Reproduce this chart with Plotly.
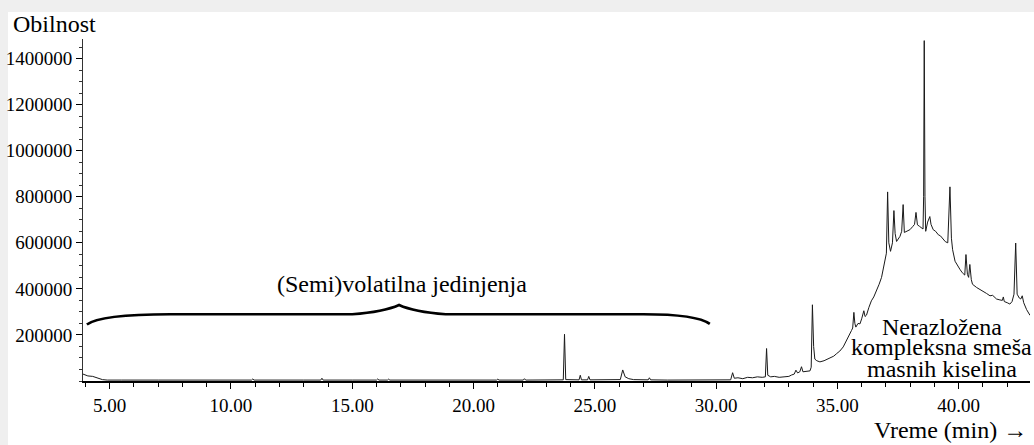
import plotly.graph_objects as go

# Retention time (min) and detector abundance of the chromatogram
time_min = [
    3.90, 3.95, 4.10, 4.30, 4.50, 4.70, 4.90, 5.30, 5.50, 7.00, 9.00,
    10.85, 10.90, 10.95, 13.00, 13.70, 13.75, 13.80, 15.00, 16.00, 16.05, 16.10,
    16.45, 16.50, 16.55, 18.00, 18.95, 19.00, 19.05, 20.50, 20.95, 21.00, 21.05,
    22.05, 22.10, 22.15, 23.00, 23.70, 23.75, 23.80, 24.35, 24.40, 24.45,
    24.70, 24.75, 24.80, 26.05, 26.15, 26.25, 26.40, 26.60, 27.20, 27.25, 27.30,
    28.00, 28.45, 28.50, 28.55, 29.25, 29.30, 29.35, 30.00, 30.60, 30.68, 30.75,
    30.90, 31.10, 31.30, 31.50, 31.70, 31.90, 32.03, 32.08, 32.13, 32.25, 32.40,
    32.60, 32.80, 33.00, 33.11, 33.22, 33.29, 33.36, 33.45, 33.52, 33.58, 33.70,
    33.87, 33.92, 33.97, 34.02, 34.07, 34.15, 34.28, 34.45, 34.69, 34.85, 34.97,
    35.10, 35.24, 35.35, 35.45, 35.52, 35.58, 35.63, 35.68, 35.72, 35.76, 35.85,
    35.93, 36.00, 36.09, 36.14, 36.20, 36.30, 36.40, 36.50, 36.61, 36.72, 36.82,
    36.90, 36.96, 37.02, 37.07, 37.12, 37.19, 37.27, 37.33, 37.38, 37.44, 37.52,
    37.58, 37.65, 37.71, 37.76, 37.85, 37.99, 38.10, 38.18, 38.24, 38.30, 38.38,
    38.47, 38.53, 38.555, 38.58, 38.61, 38.64, 38.72, 38.81, 38.86, 38.95, 39.05,
    39.16, 39.25, 39.36, 39.45, 39.55, 39.64, 39.70, 39.75, 39.85, 39.95, 40.05,
    40.15, 40.25, 40.30, 40.36, 40.41, 40.46, 40.52, 40.57, 40.74, 40.85, 41.01,
    41.15, 41.29, 41.40, 41.50, 41.56, 41.70, 41.80, 41.84, 41.88, 42.00, 42.11,
    42.20, 42.28, 42.35, 42.41, 42.50, 42.56, 42.62, 42.68, 42.80, 42.94,
]
abundance = [
    30000, 28000, 22000, 20000, 14000, 6000, 4000, 5000, 4000, 4000, 4000,
    4000, 9000, 4000, 4000, 4000, 12000, 4000, 4000, 4000, 9000, 4000,
    4000, 8000, 4000, 4000, 4000, 7000, 4000, 4000, 4000, 8000, 4000,
    4000, 10000, 4000, 4000, 5000, 203000, 6000, 5000, 25000, 5000,
    5000, 20000, 5000, 6000, 48000, 18000, 10000, 6000, 5000, 14000, 5000,
    4000, 4000, 7000, 4000, 4000, 6000, 4000, 4000, 5000, 36000, 12000,
    14000, 10000, 16000, 14000, 18000, 16000, 18000, 141000, 25000, 18000, 20000,
    16000, 18000, 20000, 26000, 30000, 47000, 35000, 40000, 62000, 40000, 42000,
    44000, 60000, 331000, 150000, 95000, 88000, 83000, 88000, 98000, 108000, 119000,
    130000, 148000, 170000, 191000, 200000, 219000, 230000, 298000, 250000, 234000, 250000,
    248000, 270000, 305000, 280000, 286000, 320000, 348000, 365000, 391000, 420000, 450000,
    490000, 529000, 555000, 821000, 600000, 563000, 600000, 740000, 640000, 606000, 620000,
    628000, 650000, 766000, 645000, 650000, 657000, 670000, 680000, 732000, 678000, 672000,
    664000, 660000, 800000, 1478000, 800000, 650000, 690000, 714000, 680000, 657000, 650000,
    635000, 630000, 614000, 605000, 600000, 843000, 620000, 570000, 520000, 500000, 485000,
    470000, 460000, 549000, 463000, 450000, 506000, 440000, 420000, 406000, 400000, 391000,
    380000, 370000, 372000, 362000, 356000, 352000, 350000, 365000, 345000, 340000, 334000,
    345000, 377000, 599000, 377000, 360000, 356000, 370000, 340000, 310000, 285000,
]

y_tick_values = [200000, 400000, 600000, 800000, 1000000, 1200000, 1400000]
y_tick_labels = [str(v) for v in y_tick_values]
x_tick_values = [5, 10, 15, 20, 25, 30, 35, 40]
x_tick_labels = ["%.2f" % v for v in x_tick_values]

SERIF = "'Times New Roman', 'Liberation Serif', 'DejaVu Serif', serif"

fig = go.Figure()
fig.add_trace(go.Scatter(
    x=time_min, y=abundance, mode="lines",
    line=dict(color="#1a1a1a", width=1),
    hoverinfo="skip", showlegend=False,
))

# Curly brace spanning the volatile-compound region
brace_path = (
    "M 4.06,245000 Q 4.6,290000 7.5,290000 L 15.0,290000 "
    "Q 16.3,300000 16.93,330000 "
    "Q 17.55,300000 18.85,290000 L 27.0,290000 Q 29.2,290000 29.74,248000"
)

shapes = [
    # light frame strip on the top and left edge of the page
    dict(type="rect", xref="paper", yref="paper",
         x0=(8 - 83) / 947, x1=1.01, y0=-0.25, y1=(381 - 12) / 342,
         fillcolor="white", line=dict(width=0), layer="below"),
    dict(type="path", xref="x", yref="y", path=brace_path,
         line=dict(color="black", width=2.6)),
]


def label(text, **kw):
    base = dict(text=text, showarrow=False, borderpad=0,
                font=dict(family=SERIF, size=24, color="black"))
    base.update(kw)
    return base


annotations = [
    label("Obilnost", xref="paper", yref="paper", x=(12 - 83) / 947,
          y=(381 - 24) / 342, xanchor="left", yanchor="middle"),
    label("Vreme (min) →", xref="paper", yref="paper", x=(1028 - 83) / 947,
          y=(381 - 444) / 342, xanchor="right", yanchor="bottom"),
    label("(Semi)volatilna jedinjenja", xref="x", yref="y", x=17.05, y=420000,
          xanchor="center", yanchor="middle"),
    label("Nerazložena", xref="x", yref="y", x=39.3, y=236000,
          xanchor="center", yanchor="middle"),
    label("kompleksna smeša", xref="x", yref="y", x=39.3, y=146000,
          xanchor="center", yanchor="middle"),
    label("masnih kiselina", xref="x", yref="y", x=39.3, y=54000,
          xanchor="center", yanchor="middle"),
]

fig.update_layout(
    width=1034, height=445,
    margin=dict(l=83, r=4, t=39, b=64),
    paper_bgcolor="#efefef", plot_bgcolor="white",
    shapes=shapes, annotations=annotations,
    showlegend=False,
    font=dict(family=SERIF, size=19, color="black"),
    xaxis=dict(
        range=[3.90, 42.94], showgrid=False, zeroline=False,
        showline=True, linecolor="black", linewidth=1.6,
        ticks="outside", ticklen=6, tickcolor="black", tickwidth=1,
        tickmode="array", tickvals=x_tick_values, ticktext=x_tick_labels,
        tickfont=dict(family=SERIF, size=19, color="black"),
        minor=dict(tickmode="linear", tick0=0, dtick=1, ticks="outside",
                   ticklen=4, tickcolor="black", tickwidth=1, showgrid=False),
    ),
    yaxis=dict(
        range=[0, 1485000], showgrid=False, zeroline=False,
        showline=True, linecolor="#333", linewidth=1,
        ticks="outside", ticklen=6, tickcolor="black", tickwidth=1,
        tickmode="array", tickvals=y_tick_values, ticktext=y_tick_labels,
        tickfont=dict(family=SERIF, size=19, color="black"),
        minor=dict(tickmode="linear", tick0=0, dtick=50000, ticks="outside",
                   ticklen=3, tickcolor="#333", tickwidth=1, showgrid=False),
    ),
)

fig.write_html("out.html")
